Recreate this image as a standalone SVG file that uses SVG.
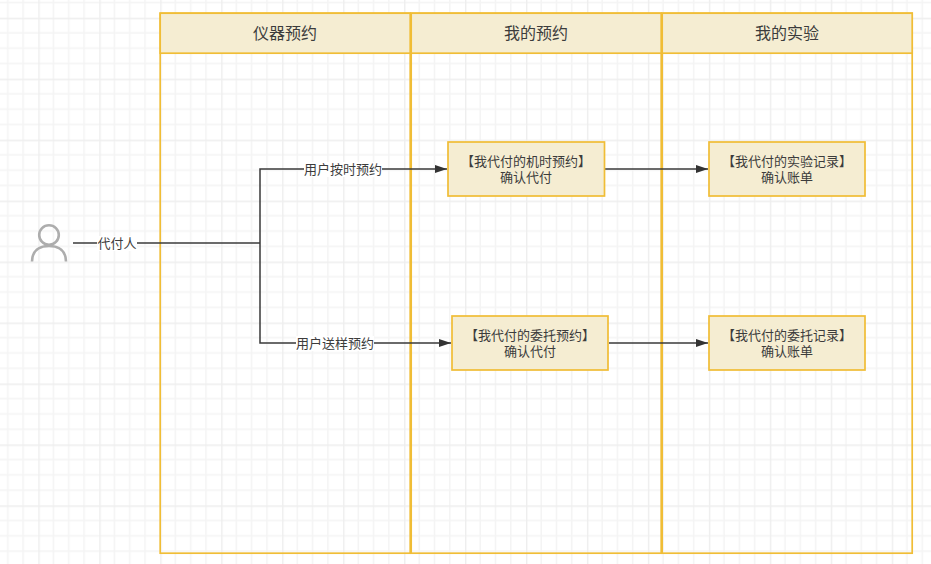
<svg xmlns="http://www.w3.org/2000/svg" width="931" height="564" viewBox="0 0 931 564">
<style>
text{font-family:"Liberation Sans","Noto Sans CJK SC",sans-serif;fill:#3c3c3c;text-anchor:middle}
.lane{fill:none;stroke:#f0bd36;stroke-width:1.7}
.head{fill:#f5edd2;stroke:#f0bd36;stroke-width:1.7}
.headt{font-size:16px}
.box{fill:#f5edd2;stroke:#f0bd36;stroke-width:1.7}
.bt{font-size:13px}
.lab{font-size:13px}
.edge{fill:none;stroke:#3a3a3a;stroke-width:1.5}
.bg{fill:#fff}
</style>
<defs>
<pattern id="grid" patternUnits="userSpaceOnUse" x="38.3" y="17.7" width="60.96" height="60.96">
<path d="M15.24 0V60.96M30.48 0V60.96M45.72 0V60.96M0 15.24H60.96M0 30.48H60.96M0 45.72H60.96" stroke="#f4f4f4" stroke-width="1.5" fill="none"/>
<path d="M0 0V60.96M0 0H60.96" stroke="#eeeeee" stroke-width="2.8" fill="none"/>
</pattern>
<marker id="arrow" markerUnits="userSpaceOnUse" markerWidth="14" markerHeight="10" refX="12" refY="5" orient="auto">
<path d="M0 1L12 5L0 9Z" fill="#333"/>
</marker>
</defs>
<rect width="931" height="564" fill="#fff"/>
<rect width="931" height="564" fill="url(#grid)"/>
<g id="lane1">
<rect class="lane" x="160.2" y="13.2" width="250" height="540"/>
<rect class="head" x="160.2" y="13.2" width="250" height="40"/>
<text class="headt" x="285" y="38.500">仪器预约</text>
</g>
<g id="lane2">
<rect class="lane" x="411.2" y="13.2" width="250" height="540"/>
<rect class="head" x="411.2" y="13.2" width="250" height="40"/>
<text class="headt" x="536" y="38.500">我的预约</text>
</g>
<g id="lane3">
<rect class="lane" x="662.2" y="13.2" width="250" height="540"/>
<rect class="head" x="662.2" y="13.2" width="250" height="40"/>
<text class="headt" x="787" y="38.500">我的实验</text>
</g>
<g id="connectors">
<path class="edge" d="M73 243H260"/>
<path class="edge" d="M260 243V169H447" marker-end="url(#arrow)"/>
<path class="edge" d="M260 243V343H451" marker-end="url(#arrow)"/>
<path class="edge" d="M605 169H708" marker-end="url(#arrow)"/>
<path class="edge" d="M609 343H708" marker-end="url(#arrow)"/>
<rect class="bg" x="97" y="236" width="40" height="15"/>
<text class="lab" x="117" y="248">代付人</text>
<rect class="bg" x="304" y="162" width="78" height="15"/>
<text class="lab" x="343" y="174">用户按时预约</text>
<rect class="bg" x="296" y="336" width="78" height="15"/>
<text class="lab" x="335" y="348">用户送样预约</text>
</g>
<g id="actor" fill="none" stroke="#adadad" stroke-width="2.600">
<circle cx="49" cy="235" r="9.800"/>
<path d="M32 261.500C32 251 39 246 49 246S66 251 66 261.500"/>
</g>
<g id="node1">
<rect class="box" x="448" y="142" width="156.500" height="54"/>
<text class="bt" x="526" y="166">【我代付的机时预约】</text>
<text class="bt" x="526" y="182">确认代付</text>
</g>
<g id="node2">
<rect class="box" x="709" y="142" width="156" height="54"/>
<text class="bt" x="787" y="166">【我代付的实验记录】</text>
<text class="bt" x="787" y="182">确认账单</text>
</g>
<g id="node3">
<rect class="box" x="452" y="316" width="156" height="54"/>
<text class="bt" x="530" y="340">【我代付的委托预约】</text>
<text class="bt" x="530" y="356">确认代付</text>
</g>
<g id="node4">
<rect class="box" x="709" y="316" width="156" height="54"/>
<text class="bt" x="787" y="340">【我代付的委托记录】</text>
<text class="bt" x="787" y="356">确认账单</text>
</g>
</svg>
